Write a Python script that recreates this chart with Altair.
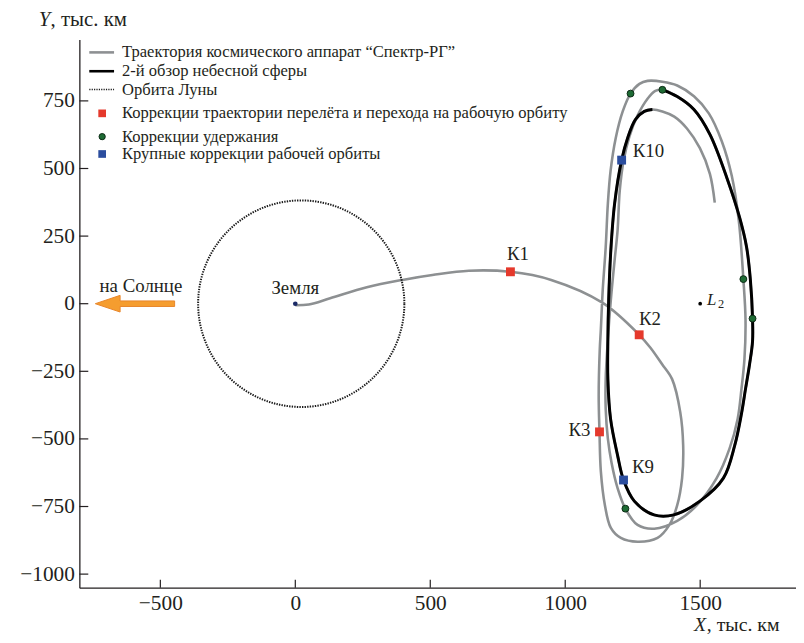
import altair as alt
import numpy as np
import pandas as pd

FONT = "Liberation Serif"
TXT = "#231f20"
GRAY = "#8d9092"

XDOM = [-800, 1855]
YDOM = [-1050, 977]
W, H = 723, 553

# ---- trajectory of "Spektr-RG" (thousand km), in path order ----
transfer_x = [0, 50, 129, 265, 397, 508, 643, 797, 948, 1139, 1274, 1315, 1359, 1396, 1426, 1437, 1433, 1415, 1386, 1342,
              1268, 1206, 1169, 1147, 1132, 1127, 1124, 1128, 1132, 1139, 1150, 1158, 1168, 1187, 1213, 1242, 1275, 1305]
transfer_y = [-6, -3, 20, 61, 88, 106, 122, 118, 88, 3, -115, -162, -224, -279, -400, -524, -645, -745, -818, -866,
              -880, -866, -829, -745, -620, -474, -341, -169, -95, 51, 209, 370, 491, 612, 711, 777, 813, 824]

rev1_x = [1360, 1415, 1477, 1532, 1580, 1617, 1643, 1660, 1668, 1664, 1653, 1639, 1609, 1561, 1488, 1415, 1330, 1268,
          1223, 1194, 1172, 1158, 1150, 1150, 1158, 1169, 1183, 1194, 1202, 1216, 1238, 1268, 1305, 1334]
rev1_y = [821, 807, 767, 704, 601, 473, 308, 91, -59, -205, -315, -425, -535, -645, -745, -803, -832, -818,
          -758, -682, -590, -499, -389, -279, -132, 14, 161, 271, 418, 528, 619, 696, 758, 787]

# second sky survey (black)
survey_x = [1360, 1415, 1477, 1536, 1599, 1646, 1672, 1686, 1694, 1694, 1683, 1668, 1653, 1628, 1586, 1499, 1402, 1329,
            1256, 1216, 1194, 1168, 1158, 1158, 1161, 1169, 1183, 1209, 1231, 1260, 1293, 1323]
survey_y = [791, 766, 718, 626, 465, 319, 209, 88, -55, -139, -224, -315, -407, -524, -645, -730, -781, -781,
            -730, -652, -561, -426, -279, -132, 14, 198, 370, 531, 612, 681, 711, 718]

tail_x = [1360, 1404, 1451, 1499, 1536, 1554]
tail_y = [711, 692, 648, 575, 480, 374]

# ---- corrections ----
red_x = [797, 1274, 1127]
red_y = [118, -115, -474]
red_lab = ["К1", "К2", "К3"]
red_lab_x = [825, 1314, 1053]
red_lab_y = [184, -55, -468]

green_x = [1242, 1360, 1660, 1694, 1223]
green_y = [777, 791, 91, -55, -758]

blue_x = [1216, 1209]
blue_y = [-652, 531]
blue_lab = ["К9", "К10"]
blue_lab_x = [1288, 1308]
blue_lab_y = [-605, 564]

MOON_CX = 22
MOON_R = 382
L2 = (1500, 0)
ARROW_X = -594

legend_lines = ["Траектория космического аппарат “Спектр-РГ”", "2-й обзор небесной сферы", "Орбита Луны"]
legend_marks = ["Коррекции траектории перелёта и перехода на рабочую орбиту", "Коррекции удержания",
                "Крупные коррекции рабочей орбиты"]

xticks = [-500, 0, 500, 1000, 1500]
yticks = [-1000, -750, -500, -250, 0, 250, 500, 750]

# ---- tables ----
gx = transfer_x + rev1_x + survey_x + tail_x
gy = transfer_y + rev1_y + survey_y + tail_y
gray_df = pd.DataFrame({"x": gx, "y": gy, "i": range(len(gx))})
black_df = pd.DataFrame({"x": survey_x, "y": survey_y, "i": range(len(survey_x))})
t = np.linspace(0, 2 * np.pi, 361)
moon_df = pd.DataFrame({"x": MOON_CX + MOON_R * np.cos(t), "y": MOON_R * np.sin(t), "i": range(len(t))})
red_df = pd.DataFrame({"x": red_x, "y": red_y, "lx": red_lab_x, "ly": red_lab_y, "lab": red_lab})
green_df = pd.DataFrame({"x": green_x, "y": green_y})
blue_df = pd.DataFrame({"x": blue_x, "y": blue_y, "lx": blue_lab_x, "ly": blue_lab_y, "lab": blue_lab})

xs = alt.Scale(domain=XDOM, nice=False, zero=False)
ys = alt.Scale(domain=YDOM, nice=False, zero=False)

axis_common = dict(title=None, grid=False, ticks=False, tickSize=0, labelFont=FONT, labelFontSize=21.5,
                   labelColor=TXT, domainColor=TXT, domainWidth=1.3, labelPadding=5, labelFlush=False, format="d")
xaxis = alt.Axis(values=xticks, **axis_common)
yaxis = alt.Axis(values=yticks, **axis_common)


def X(f):
    return alt.X(f, type="quantitative", scale=xs, axis=xaxis)


def Y(f):
    return alt.Y(f, type="quantitative", scale=ys, axis=yaxis)


one = pd.DataFrame({"a": [0]})
layers = []

# gray trajectory
layers.append(alt.Chart(gray_df).mark_line(color=GRAY, strokeWidth=2.6, interpolate="catmull-rom").encode(
    x=X("x"), y=Y("y"), order="i:Q"))
# moon orbit
layers.append(alt.Chart(moon_df).mark_line(color="#1a1a1a", strokeWidth=2, strokeDash=[1.4, 1.2]).encode(
    x=X("x"), y=Y("y"), order="i:Q"))
# survey
layers.append(alt.Chart(black_df).mark_line(color="#000000", strokeWidth=3, interpolate="catmull-rom").encode(
    x=X("x"), y=Y("y"), order="i:Q"))
# Earth and L2
layers.append(alt.Chart(pd.DataFrame({"x": [0], "y": [0]})).mark_circle(size=22, color="#1b2a66", opacity=1).encode(
    x=X("x"), y=Y("y")))
layers.append(alt.Chart(pd.DataFrame({"x": [L2[0]], "y": [L2[1]]})).mark_circle(size=14, color="#000", opacity=1).encode(
    x=X("x"), y=Y("y")))
# corrections
layers.append(alt.Chart(red_df).mark_square(size=80, color="#e5392c", opacity=1).encode(x=X("x"), y=Y("y")))
layers.append(alt.Chart(green_df).mark_circle(size=48, color="#1e6b34", stroke="#0b2a14", strokeWidth=1, opacity=1).encode(
    x=X("x"), y=Y("y")))
layers.append(alt.Chart(blue_df).mark_square(size=80, color="#2b4d9e", opacity=1).encode(x=X("x"), y=Y("y")))
for df in (red_df, blue_df):
    layers.append(alt.Chart(df).mark_text(font=FONT, fontSize=19, color=TXT, align="center", baseline="middle").encode(
        x=X("lx"), y=Y("ly"), text="lab:N"))
# labels
labels_df = pd.DataFrame({"x": [0, -572], "y": [58, 66], "t": ["Земля", "на Солнце"]})
layers.append(alt.Chart(labels_df).mark_text(font=FONT, fontSize=19, color=TXT, align="center", baseline="middle").encode(
    x=X("x"), y=Y("y"), text="t:N"))
l2df = pd.DataFrame({"x": [L2[0]], "y": [L2[1]]})
layers.append(alt.Chart(l2df).mark_text(font=FONT, fontSize=17, fontStyle="italic", color=TXT, align="left",
                                        baseline="alphabetic", dx=7, dy=1, text="L").encode(x=X("x"), y=Y("y")))
layers.append(alt.Chart(l2df).mark_text(font=FONT, fontSize=12.5, color=TXT, align="left",
                                        baseline="alphabetic", dx=18, dy=4, text="2").encode(x=X("x"), y=Y("y")))
# arrow to the Sun
arrow_path = "M -1 0 L -0.375 -0.21 L -0.375 -0.07 L 1 -0.07 L 1 0.07 L -0.375 0.07 L -0.375 0.21 Z"
layers.append(alt.Chart(pd.DataFrame({"x": [ARROW_X], "y": [0]})).mark_point(
    shape=arrow_path, size=6400, filled=True, fill="#f59d2f", stroke="#e8862a", strokeWidth=1, opacity=1).encode(
    x=X("x"), y=Y("y")))
# inward ticks
layers.append(alt.Chart(pd.DataFrame({"v": xticks})).mark_rule(color=TXT, strokeWidth=1.2).encode(
    x=X("v"), y=alt.value(H), y2=alt.value(H - 8)))
layers.append(alt.Chart(pd.DataFrame({"v": yticks})).mark_rule(color=TXT, strokeWidth=1.2).encode(
    y=Y("v"), x=alt.value(0), x2=alt.value(9)))

# legend
line_rows = [13, 32, 50.5]
line_styles = [dict(color=GRAY, strokeWidth=2.6), dict(color="#000", strokeWidth=2.6),
               dict(color="#1a1a1a", strokeWidth=1.5, strokeDash=[1.2, 1.2])]
for lab, yy, st in zip(legend_lines, line_rows, line_styles):
    layers.append(alt.Chart(one).mark_rule(**st).encode(x=alt.value(10), x2=alt.value(35), y=alt.value(yy)))
    layers.append(alt.Chart(one).mark_text(font=FONT, fontSize=16.7, color=TXT, align="left", baseline="middle",
                                           text=lab).encode(x=alt.value(43), y=alt.value(yy)))
mark_rows = [74.5, 98, 115.5]
mk = [alt.Chart(one).mark_square(size=60, color="#e5392c", opacity=1),
      alt.Chart(one).mark_circle(size=40, color="#1e6b34", stroke="#0b2a14", strokeWidth=1, opacity=1),
      alt.Chart(one).mark_square(size=60, color="#2b4d9e", opacity=1)]
for lab, yy, m in zip(legend_marks, mark_rows, mk):
    layers.append(m.encode(x=alt.value(23), y=alt.value(yy)))
    layers.append(alt.Chart(one).mark_text(font=FONT, fontSize=16.7, color=TXT, align="left", baseline="middle",
                                           text=lab).encode(x=alt.value(43), y=alt.value(yy)))

# axis titles
for txt, xx, yy, size, style in [("Y", -41, -14, 21, "italic"), (", тыс. км", -29, -14, 21, "normal"),
                                 ("X", 620, 597, 20, "italic"), (", тыс. км", 633, 597, 20, "normal")]:
    layers.append(alt.Chart(one).mark_text(font=FONT, fontSize=size, fontStyle=style, color=TXT, align="left",
                                           baseline="alphabetic", text=txt).encode(x=alt.value(xx), y=alt.value(yy)))

chart = alt.layer(*layers).properties(
    width=W, height=H,
    padding={"left": 72, "top": 29, "right": 0, "bottom": 45},
    autosize=alt.AutoSizeParams(type="none"),
).configure_view(stroke=None)

chart.save("out.html", embed_options={"renderer": "svg", "actions": False})
